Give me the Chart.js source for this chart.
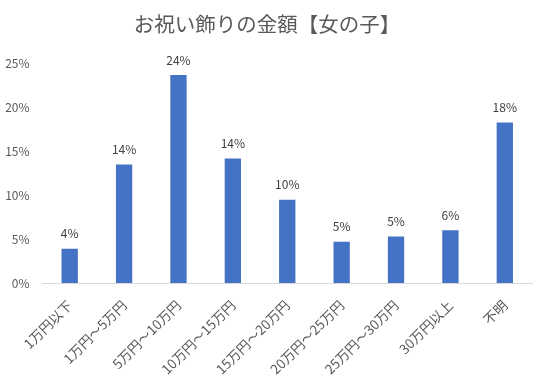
<!DOCTYPE html>
<html><head><meta charset="utf-8">
<script src="https://cdn.jsdelivr.net/npm/chart.js@4/dist/chart.umd.min.js"></script>
<style>html,body{margin:0;padding:0;background:#fff}#wrap{width:546px;height:382px}</style>
</head><body><div id="wrap"><canvas id="c" width="546" height="382"></canvas></div>
<script>
const titleText = 'お祝い飾りの金額【女の子】';
const categories = ['1万円以下','1万円～5万円','5万円～10万円','10万円～15万円','15万円～20万円','20万円～25万円','25万円～30万円','30万円以上','不明'];
const values = [3.9, 13.5, 23.7, 14.2, 9.5, 4.7, 5.3, 6.0, 18.3];
const yTicks = [0, 5, 10, 15, 20, 25];

const FONT = '"Noto Sans CJK JP", "Noto Sans", sans-serif';
const GRAY = '#595959';

const labelPlugin = {
  id: 'barLabels',
  afterDatasetsDraw(chart) {
    const ctx = chart.ctx;
    const meta = chart.getDatasetMeta(0);
    ctx.save();
    ctx.font = '12px ' + FONT;
    ctx.fillStyle = '#404040';
    ctx.textAlign = 'center';
    ctx.textBaseline = 'alphabetic';
    meta.data.forEach((bar, i) => {
      ctx.fillText(Math.round(chart.data.datasets[0].data[i]) + '%', bar.x, bar.y - 10.5);
    });
    ctx.restore();
  }
};

new Chart(document.getElementById('c'), {
  type: 'bar',
  data: {
    labels: categories,
    datasets: [{ data: values, backgroundColor: '#4472C4', barPercentage: 0.3, categoryPercentage: 1, yAxisID: 'y' }]
  },
  options: {
    responsive: false,
    animation: false,
    devicePixelRatio: 1,
    layout: { padding: { left: 0, right: 12, top: 0, bottom: 0 } },
    plugins: {
      legend: { display: false },
      tooltip: { enabled: false },
      title: { display: true, text: titleText, color: GRAY, font: { family: FONT, size: 20.5, weight: 'normal' }, padding: { top: 12, bottom: 27 } }
    },
    scales: {
      x: {
        grid: { display: false, drawTicks: false },
        border: { display: true, color: '#d9d9d9', width: 1 },
        ticks: { color: GRAY, font: { family: FONT, size: 13.5 }, minRotation: 45, maxRotation: 45, padding: 14 },
        afterFit(axis) { axis.height = 99; }
      },
      y: {
        min: 0, max: 25,
        afterBuildTicks(axis) { axis.ticks = yTicks.map(v => ({ value: v })); },
        grid: { display: false, drawTicks: false },
        border: { display: false },
        ticks: { color: GRAY, font: { family: FONT, size: 12 }, padding: 13, callback: v => v + '%' },
        afterFit(axis) { axis.width = 42.5; }
      },
      yr: {
        position: 'right',
        display: true,
        grid: { display: false, drawTicks: false },
        border: { display: false },
        ticks: { display: false },
        afterFit(axis) { axis.width = 2; }
      }
    }
  },
  plugins: [labelPlugin]
});
</script></body></html>
